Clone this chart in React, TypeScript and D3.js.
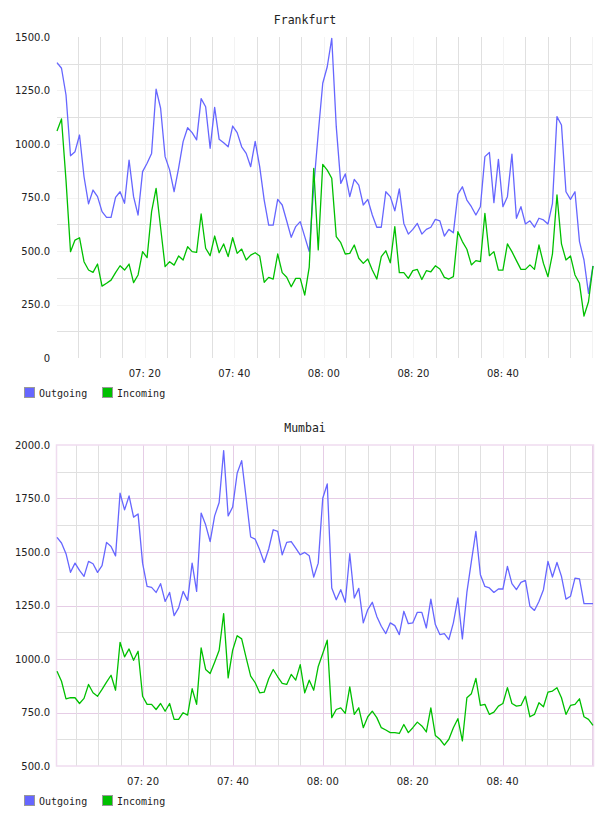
// TrafficCharts.tsx
import React, { useEffect, useRef } from 'react';
import * as d3 from 'd3';

// one sample per minute, 120 samples per site
const frankfurtOutgoing = [
  1380, 1354, 1229, 945, 964, 1042, 847, 720, 785, 754,
  684, 657, 657, 751, 777, 723, 925, 754, 668, 871,
  910, 956, 1256, 1167, 941, 879, 777, 887, 1011, 1076,
  1053, 1019, 1212, 1174, 980, 1171, 1022, 1006, 987, 1084,
  1053, 987, 956, 894, 1012, 894, 738, 621, 621, 741,
  715, 640, 564, 614, 637, 567, 497, 800, 1050, 1284,
  1361, 1494, 1081, 816, 860, 754, 835, 808, 715, 741,
  668, 611, 611, 777, 754, 688, 790, 629, 579, 601,
  629, 579, 601, 611, 648, 641, 570, 601, 585, 766,
  800, 738, 707, 668, 707, 941, 960, 726, 928, 707,
  754, 953, 653, 707, 626, 641, 611, 653, 645, 626,
  723, 1128, 1089, 777, 741, 777, 544, 458, 302, 430,
];

const frankfurtIncoming = [
  1061, 1117, 830, 497, 551, 562, 450, 411, 400, 439,
  336, 349, 364, 399, 431, 411, 439, 352, 388, 497,
  469, 684, 793, 610, 427, 450, 434, 477, 458, 520,
  497, 494, 673, 513, 478, 570, 492, 533, 474, 562,
  489, 509, 458, 481, 492, 477, 354, 377, 369, 486,
  399, 377, 333, 372, 372, 294, 425, 886, 505, 905,
  878, 840, 567, 539, 486, 489, 528, 466, 442, 463,
  411, 369, 474, 501, 445, 614, 399, 399, 372, 408,
  414, 367, 408, 403, 431, 416, 377, 369, 380, 590,
  544, 508, 435, 455, 450, 676, 478, 497, 411, 411,
  533, 497, 455, 414, 414, 435, 414, 528, 442, 380,
  486, 762, 533, 458, 477, 388, 349, 196, 263, 430,
];

const mumbaiOutgoing = [
  1568, 1542, 1492, 1405, 1448, 1414, 1386, 1456, 1445, 1405,
  1436, 1545, 1526, 1482, 1775, 1697, 1762, 1663, 1678, 1448,
  1339, 1335, 1311, 1352, 1269, 1311, 1203, 1239, 1316, 1274,
  1448, 1316, 1682, 1627, 1549, 1669, 1731, 1974, 1669, 1710,
  1868, 1927, 1751, 1570, 1560, 1510, 1451, 1514, 1604, 1596,
  1487, 1545, 1549, 1518, 1487, 1498, 1482, 1383, 1448, 1751,
  1818, 1332, 1277, 1324, 1265, 1492, 1285, 1330, 1169, 1231,
  1265, 1199, 1153, 1119, 1169, 1156, 1114, 1223, 1165, 1169,
  1218, 1218, 1145, 1280, 1161, 1114, 1119, 1091, 1169, 1285,
  1094, 1311, 1456, 1596, 1394, 1339, 1332, 1311, 1327, 1327,
  1433, 1352, 1324, 1358, 1367, 1246, 1227, 1269, 1324, 1456,
  1383, 1451, 1386, 1280, 1293, 1378, 1374, 1259, 1259, 1259,
];

const mumbaiIncoming = [
  943, 896, 814, 819, 819, 792, 816, 881, 842, 826,
  858, 892, 924, 854, 1078, 1010, 1047, 994, 1036, 826,
  788, 788, 764, 792, 756, 792, 718, 718, 749, 738,
  861, 788, 1052, 951, 932, 985, 1041, 1212, 912, 1041,
  1109, 1094, 1005, 920, 889, 842, 845, 908, 951, 917,
  886, 881, 928, 901, 974, 842, 901, 854, 965, 1026,
  1088, 726, 764, 772, 746, 870, 741, 772, 679, 730,
  756, 726, 679, 668, 656, 656, 652, 694, 656, 679,
  705, 687, 659, 772, 643, 625, 598, 625, 679, 721,
  617, 819, 838, 909, 783, 788, 741, 752, 780, 792,
  866, 792, 780, 783, 826, 730, 741, 796, 777, 845,
  850, 866, 819, 741, 783, 788, 814, 730, 718, 690,
];

const frankfurtYTicks = [0, 250, 500, 750, 1000, 1250, 1500];
const mumbaiYTicks = [500, 750, 1000, 1250, 1500, 1750, 2000];
const timeTicks = ['07:20', '07:40', '08:00', '08:20', '08:40'];
const seriesNames = ['Outgoing', 'Incoming'];
const seriesColors = ['#6666ff', '#00c000'];

const charts = [
  {
    title: 'Frankfurt',
    offsetY: 0,
    start: new Date(2000, 0, 1, 7, 0, 24),
    stepSec: 60.36,
    series: [frankfurtOutgoing, frankfurtIncoming],
    yTicks: frankfurtYTicks,
    majorGrid: '#f3f3f3',
    border: null,
  },
  {
    title: 'Mumbai',
    offsetY: 408,
    start: new Date(2000, 0, 1, 7, 0, 51),
    stepSec: 60.14,
    series: [mumbaiOutgoing, mumbaiIncoming],
    yTicks: mumbaiYTicks,
    majorGrid: '#e6cde6',
    border: '#efdcef',
  },
];

const MONO = '"DejaVu Sans Mono", monospace';
const SANS = '"DejaVu Sans", sans-serif';

const App = () => {
  const svgRef = useRef(null);

  useEffect(() => {
    const svg = d3.select(svgRef.current);
    svg.selectAll('*').remove();

    const plotLeft = 57;
    const plotTop = 37;
    const plotW = 536;
    const plotH = 321;
    const minorGrid = '#e0e0e0';

    charts.forEach((c) => {
      const g = svg.append('g').attr('transform', `translate(0,${c.offsetY})`);

      g.append('text')
        .attr('x', 305)
        .attr('y', 24)
        .attr('text-anchor', 'middle')
        .attr('font-family', MONO)
        .attr('font-size', 11.5)
        .attr('fill', '#222')
        .text(c.title);

      const n = c.series[0].length;
      const times = d3.range(n).map((i) => new Date(+c.start + i * c.stepSec * 1000));

      const x = d3.scaleTime().domain(d3.extent(times)).range([0, plotW]);
      const y = d3
        .scaleLinear()
        .domain([c.yTicks[0], c.yTicks[c.yTicks.length - 1]])
        .range([plotH, 0]);

      const plot = g.append('g').attr('transform', `translate(${plotLeft},${plotTop})`);
      const px = (v) => Math.round(v) + 0.5;

      // horizontal grid: light lines between the labelled values
      const yStep = c.yTicks[1] - c.yTicks[0];
      const minorY = c.yTicks.slice(0, -1).map((v) => v + yStep / 2);
      plot.selectAll('.grid-y-minor')
        .data(minorY)
        .join('line')
        .attr('x1', 0)
        .attr('x2', plotW)
        .attr('y1', (d) => px(y(d)))
        .attr('y2', (d) => px(y(d)))
        .attr('stroke', minorGrid);
      plot.selectAll('.grid-y-major')
        .data(c.yTicks.slice(1, -1))
        .join('line')
        .attr('x1', 0)
        .attr('x2', plotW)
        .attr('y1', (d) => px(y(d)))
        .attr('y2', (d) => px(y(d)))
        .attr('stroke', c.majorGrid);

      // vertical grid every 5 minutes, stronger every 20
      const gridTimes = x.ticks(d3.timeMinute.every(5));
      plot.selectAll('.grid-x')
        .data(gridTimes)
        .join('line')
        .attr('x1', (d) => px(x(d)))
        .attr('x2', (d) => px(x(d)))
        .attr('y1', 0)
        .attr('y2', plotH)
        .attr('stroke', (d) => (d.getMinutes() % 20 === 0 ? c.majorGrid : minorGrid));

      if (c.border) {
        plot.append('rect')
          .attr('x', -0.5)
          .attr('y', 0)
          .attr('width', plotW + 1)
          .attr('height', plotH)
          .attr('fill', 'none')
          .attr('stroke', c.border)
          .attr('stroke-width', 1.5);
      }

      // y labels
      g.selectAll('.y-label')
        .data(c.yTicks)
        .join('text')
        .attr('x', 50)
        .attr('y', (d) => plotTop + y(d))
        .attr('dy', '0.35em')
        .attr('text-anchor', 'end')
        .attr('font-family', SANS)
        .attr('font-size', 10)
        .attr('fill', '#222')
        .text((d) => (d === 0 ? '0' : d3.format('.1f')(d)));

      // x labels
      const parse = (s) => {
        const [h, m] = s.split(':').map(Number);
        return new Date(2000, 0, 1, h, m, 0);
      };
      g.selectAll('.x-label')
        .data(timeTicks)
        .join('text')
        .attr('x', (d) => plotLeft + x(parse(d)))
        .attr('y', plotTop + plotH + 18.5)
        .attr('text-anchor', 'middle')
        .attr('font-family', SANS)
        .attr('font-size', 10)
        .attr('fill', '#222')
        .text((d) => d.replace(':', ': '));

      // series lines
      const line = d3
        .line()
        .x((d, i) => x(times[i]))
        .y((d) => y(d));
      c.series.forEach((values, si) => {
        plot.append('path')
          .datum(values)
          .attr('d', line)
          .attr('fill', 'none')
          .attr('stroke', seriesColors[si])
          .attr('stroke-width', 1.3)
          .attr('stroke-linejoin', 'round');
      });

      // legend
      const legendPos = [24, 102];
      seriesNames.forEach((name, si) => {
        g.append('rect')
          .attr('x', legendPos[si] + 0.5)
          .attr('y', 387.5)
          .attr('width', 10)
          .attr('height', 10)
          .attr('fill', seriesColors[si])
          .attr('stroke', '#999');
        g.append('text')
          .attr('x', legendPos[si] + 15)
          .attr('y', 396.5)
          .attr('font-family', MONO)
          .attr('font-size', 10)
          .attr('fill', '#222')
          .text(name);
      });
    });
  }, []);

  return (
    <svg
      ref={svgRef}
      width={608}
      height={816}
      style={{ position: 'absolute', left: 0, top: 0, background: 'white' }}
    />
  );
};

export default App;
